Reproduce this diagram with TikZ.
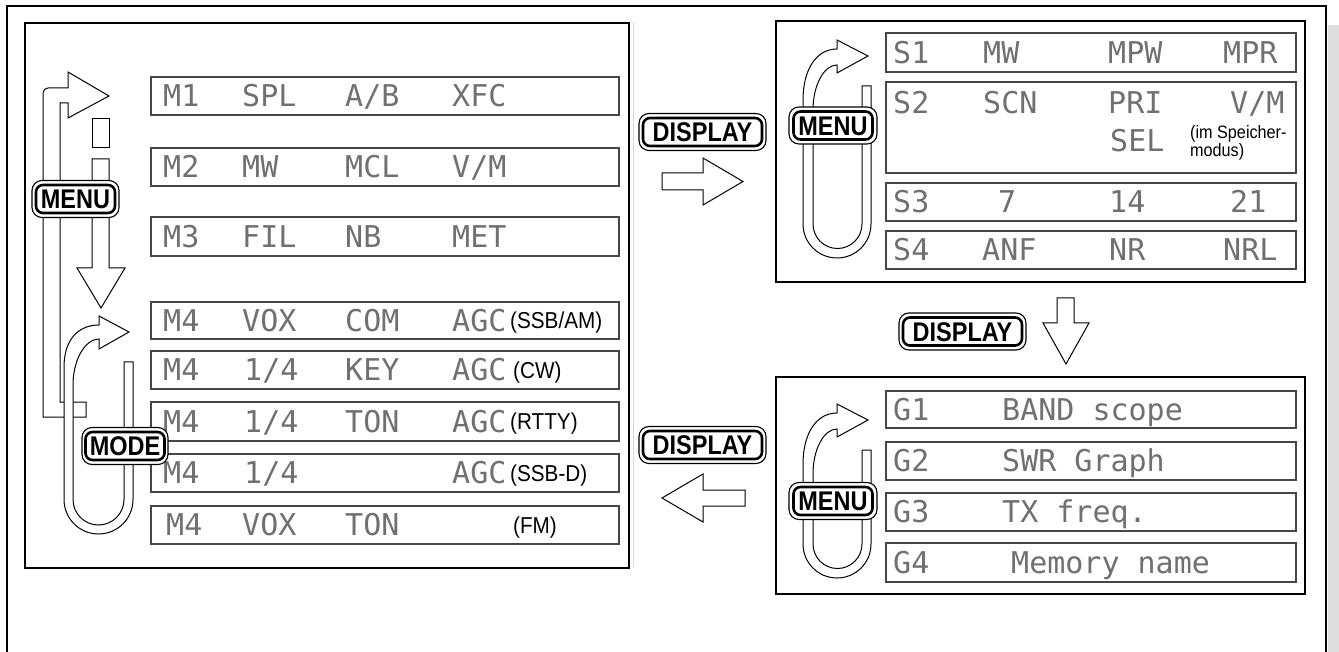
\documentclass[tikz,border=0pt]{standalone}
\usepackage{fontspec}
\setmainfont{Liberation Sans}
\newfontfamily\lcdfont{DejaVu Sans Mono}
\newfontfamily\btnfont[FakeStretch=0.87]{Liberation Sans}
\newfontfamily\notefont[FakeStretch=0.9]{Liberation Sans}
\definecolor{lcdgray}{RGB}{112,112,112}
\definecolor{rowgray}{RGB}{70,70,70}
\definecolor{stripgray}{RGB}{222,222,222}
\definecolor{shadowgray}{RGB}{215,215,215}
\newcommand\keybtn[5]{%
  \node[btnout, minimum width=#5] (#1o) at (#2) {};
  \node[btnin, minimum width=#4] (#1) at (#2) {#3};}
\newcommand\menuloop[2]{%
  \draw[tube] (862,86+#1) -- (871,86+#1) -- (871,#2)
    arc[start angle=0, end angle=180, radius=34]
    -- (803,100+#1) .. controls (803,70+#1) and (816,49+#1) .. (837,49+#1)
    -- (837,40+#1) -- (868,56+#1) -- (837,73+#1) -- (837,65+#1)
    .. controls (824,65+#1) and (813,85+#1) .. (813,110+#1)
    -- (813,#2) arc[start angle=180, end angle=0, radius=24.5] -- cycle;}
\begin{document}
\begin{tikzpicture}[x=1pt, y=-1pt,
  panel/.style={draw=black, line width=2.5pt},
  lcdrow/.style={draw=rowgray, line width=1.1pt},
  lcd/.style={font=\lcdfont\fontsize{30}{30}\selectfont, text=lcdgray, anchor=west, inner sep=0pt, text height=21.9pt, text depth=0pt},
  note/.style={font=\notefont\fontsize{23}{23}\selectfont, anchor=west, inner sep=0pt, text height=16.5pt, text depth=0pt},
  smallnote/.style={font=\notefont\fontsize{18}{18}\selectfont, anchor=west, inner sep=0pt, text height=12.9pt, text depth=0pt},
  blockarrow/.style={draw=black, fill=white, line width=1pt, line join=miter},
  tube/.style={draw=black, fill=white, line width=1pt},
  btnout/.style={draw=black, fill=white, line width=1.1pt, rounded corners=10pt, inner sep=0pt, minimum height=37pt},
  btnin/.style={draw=black, fill=white, line width=2.6pt, rounded corners=7pt, inner sep=0pt, minimum height=28pt, font=\btnfont\bfseries\fontsize{27}{27}\selectfont, text height=19.3pt, text depth=0pt}]
\useasboundingbox (0,0) rectangle (1339,652);
\fill[white] (0,0) rectangle (1339,652);
% outer frame and side strip
\fill[stripgray] (1328,25) rectangle (1339,652);
\draw[line width=2pt] (7,653) -- (7,6) -- (1326,6) -- (1326,653);
\draw[shadowgray, line width=1pt] (633,22) -- (633,567);

% ---------- left panel ----------
\draw[panel] (25,23) rectangle (629,568);
\draw[lcdrow] (151,77) rectangle (619,115);
\draw[lcdrow] (151,148) rectangle (619,186);
\draw[lcdrow] (151,217) rectangle (619,256);
\draw[lcdrow] (151,302) rectangle (619,339);
\draw[lcdrow] (151,351) rectangle (619,389);
\draw[lcdrow] (151,402) rectangle (619,441);
\draw[lcdrow] (151,454) rectangle (619,492);
\draw[lcdrow] (151,506) rectangle (619,544);

\node[lcd] (m1a) at (163,96) {M1};
\node[lcd] (m1b) at (242,96) {SPL};
\node[lcd] (m1c) at (345,96) {A/B};
\node[lcd] (m1d) at (452,96) {XFC};
\node[lcd] (m2a) at (163,167) {M2};
\node[lcd] (m2b) at (242,167) {MW};
\node[lcd] (m2c) at (345,167) {MCL};
\node[lcd] (m2d) at (452,167) {V/M};
\node[lcd] (m3a) at (163,236.5) {M3};
\node[lcd] (m3b) at (242,236.5) {FIL};
\node[lcd] (m3c) at (345,236.5) {NB};
\node[lcd] (m3d) at (452,236.5) {MET};
\node[lcd] (m4a1) at (163,320.5) {M4};
\node[lcd] (m4a2) at (242,320.5) {VOX};
\node[lcd] (m4a3) at (345,320.5) {COM};
\node[lcd] (m4a4) at (452,320.5) {AGC};
\node[note] (m4a5) at (510,320.5) {(SSB/AM)};
\node[lcd] (m4b1) at (163,370) {M4};
\node[lcd] (m4b2) at (244,370) {1/4};
\node[lcd] (m4b3) at (345,370) {KEY};
\node[lcd] (m4b4) at (452,370) {AGC};
\node[note] (m4b5) at (513,370) {(CW)};
\node[lcd] (m4c1) at (163,421.5) {M4};
\node[lcd] (m4c2) at (244,421.5) {1/4};
\node[lcd] (m4c3) at (345,421.5) {TON};
\node[lcd] (m4c4) at (452,421.5) {AGC};
\node[note] (m4c5) at (510,421.5) {(RTTY)};
\node[lcd] (m4d1) at (163,473) {M4};
\node[lcd] (m4d2) at (244,473) {1/4};
\node[lcd] (m4d4) at (452,473) {AGC};
\node[note] (m4d5) at (510,473) {(SSB-D)};
\node[lcd] (m4e1) at (166,525) {M4};
\node[lcd] (m4e2) at (242,525) {VOX};
\node[lcd] (m4e3) at (345,525) {TON};
\node[note] (m4e5) at (513,525) {(FM)};

% MENU loop (left)
\draw[tube] [rounded corners=5pt] (43,417) -- (43,88) [sharp corners] -- (68,88)
  -- (68,72) -- (109,96) -- (68,118) -- (68,103) -- (60,103) -- (60,402)
  -- (86,402) -- (86,417) -- cycle;
\draw[tube] (92,119) rectangle (109,148);
\draw[blockarrow] (92,159) -- (109,159) -- (109,268) -- (125,268) -- (101,308)
  -- (77,268) -- (92,268) -- cycle;
% MODE loop
\draw[tube] (124,362) -- (133,362) -- (133,499.5)
  arc[start angle=0, end angle=180, radius=34.5]
  -- (64,367) .. controls (64,340) and (78,325) .. (99,325)
  -- (99,316) -- (129,332) -- (99,349) -- (99,339)
  .. controls (85,339) and (73,360) .. (73,385)
  -- (73,499.5) arc[start angle=180, end angle=0, radius=25.5] -- cycle;
\keybtn{menuL}{75.5,199}{MENU}{79pt}{87pt}
\keybtn{mode}{125,446}{MODE}{79pt}{86pt}

% ---------- arrows between panels ----------
\keybtn{dispA}{702.5,132}{DISPLAY}{119pt}{127pt}
\draw[blockarrow] (662,173) -- (703,173) -- (703,158) -- (743,181.5) -- (703,205)
  -- (703,190) -- (662,190) -- cycle;
\keybtn{dispB}{962.5,331.5}{DISPLAY}{119pt}{127pt}
\draw[blockarrow] (1057,298) -- (1074,298) -- (1074,323) -- (1089,323) -- (1066,364)
  -- (1043,323) -- (1057,323) -- cycle;
\keybtn{dispC}{702.5,445}{DISPLAY}{119pt}{127pt}
\draw[blockarrow] (745,490) -- (703,490) -- (703,474) -- (662,498) -- (703,522)
  -- (703,506) -- (745,506) -- cycle;

% ---------- S panel ----------
\draw[panel] (776,21) rectangle (1305,282);
\draw[lcdrow] (886,33) rectangle (1296,72);
\draw[lcdrow] (886,82) rectangle (1296,173);
\draw[lcdrow] (886,183) rectangle (1296,221);
\draw[lcdrow] (886,231) rectangle (1296,269);
\node[lcd] (s1a) at (893,52.5) {S1};
\node[lcd] (s1b) at (983,52.5) {MW};
\node[lcd] (s1c) at (1108,52.5) {MPW};
\node[lcd] (s1d) at (1223,52.5) {MPR};
\node[lcd] (s2a) at (893,102.5) {S2};
\node[lcd] (s2b) at (983,102.5) {SCN};
\node[lcd] (s2c) at (1108,102.5) {PRI};
\node[lcd] (s2d) at (1230,102.5) {V/M};
\node[lcd] (s2e) at (1110,141) {SEL};
\node[smallnote] (s2f) at (1190,132.5) {(im Speicher-};
\node[smallnote] (s2g) at (1190,150) {modus)};
\node[lcd] (s3a) at (893,202) {S3};
\node[lcd] (s3b) at (998,202) {7};
\node[lcd] (s3c) at (1109,202) {14};
\node[lcd] (s3d) at (1230,202) {21};
\node[lcd] (s4a) at (893,250) {S4};
\node[lcd] (s4b) at (982,250) {ANF};
\node[lcd] (s4c) at (1109,250) {NR};
\node[lcd] (s4d) at (1223,250) {NRL};
\menuloop{0}{224}
\keybtn{menuS}{833,125.5}{MENU}{79pt}{88pt}

% ---------- G panel ----------
\draw[panel] (776,377) rectangle (1305,594);
\draw[lcdrow] (886,391) rectangle (1296,428);
\draw[lcdrow] (886,442) rectangle (1296,480);
\draw[lcdrow] (886,493) rectangle (1296,531);
\draw[lcdrow] (886,543) rectangle (1296,582);
\node[lcd] (g1a) at (893,409.5) {G1};
\node[lcd] (g1b) at (1002,409.5) {BAND scope};
\node[lcd] (g2a) at (893,461) {G2};
\node[lcd] (g2b) at (1002,461) {SWR Graph};
\node[lcd] (g3a) at (893,512) {G3};
\node[lcd] (g3b) at (1002,512) {TX freq.};
\node[lcd] (g4a) at (893,562.5) {G4};
\node[lcd] (g4b) at (1011,562.5) {Memory name};
\menuloop{364}{544}
\keybtn{menuG}{833,501}{MENU}{79pt}{88pt}
\end{tikzpicture}
\end{document}
